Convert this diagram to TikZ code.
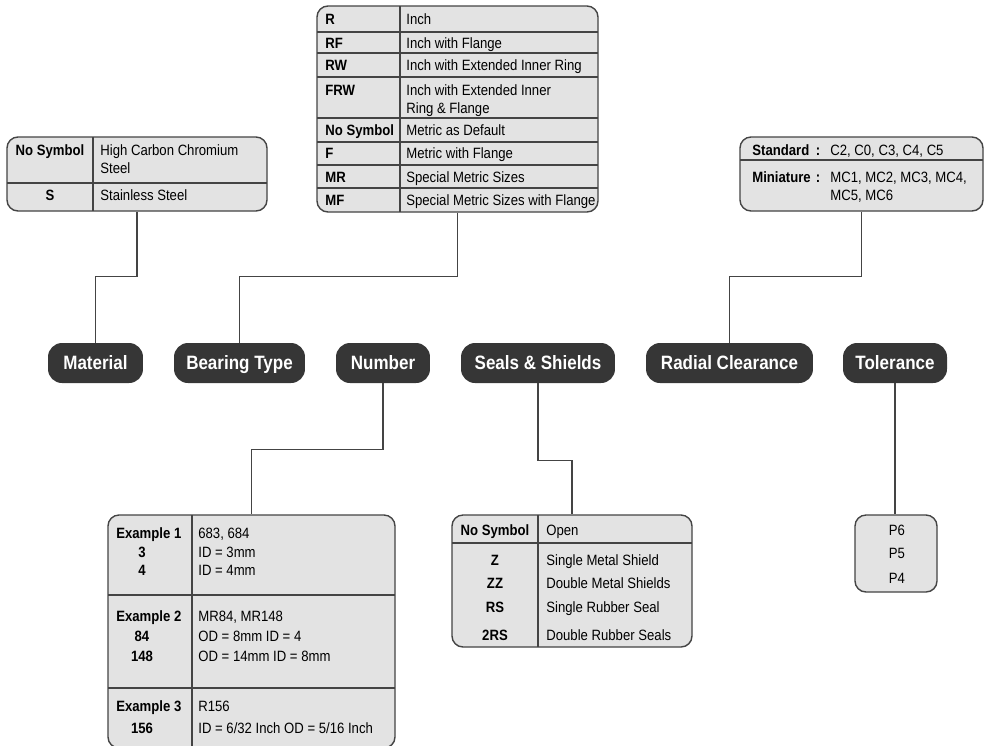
\documentclass[tikz,border=0pt]{standalone}
\usepackage{fontspec}
\setmainfont{Liberation Sans}[FakeStretch=0.88]
\usetikzlibrary{positioning,fit}
\definecolor{pillgray}{HTML}{363636}
\definecolor{cellgray}{HTML}{E3E3E3}
\definecolor{rulegray}{HTML}{444444}

\begin{document}
\begin{tikzpicture}[x=0.02cm,y=-0.02cm,
  tbl/.style={draw=rulegray, line width=0.8pt, fill=cellgray, rounded corners=0.22cm, inner sep=0pt},
  pill/.style={fill=pillgray, text=white, rounded corners=0.28cm, inner sep=0pt, minimum height=0.8cm,
    font=\fontsize{11}{12}\selectfont\bfseries, text height=7.9pt, text depth=0pt},
  txt/.style={anchor=west, inner sep=0pt, font=\fontsize{8.5}{10}\selectfont, text height=6.1pt, text depth=0pt},
  plain/.style={txt, anchor=center},
  symw/.style={txt, font=\fontsize{8.5}{10}\selectfont\bfseries},
  sym/.style={symw, anchor=center},
  rule/.style={draw=rulegray, line width=0.7pt},
  link/.style={draw=rulegray, line width=0.7pt}]
  \useasboundingbox (0,0) rectangle (990,745);

  \foreach \x/\w/\n/\t in {95.5/1.9/lmat/Material, 239.5/2.62/ltype/Bearing Type, 383/1.88/lnum/Number,
    538/3.08/lseal/Seals \& Shields, 729.5/3.34/lclr/Radial Clearance, 895/2.08/ltol/Tolerance}
    \node[pill, minimum width=\w cm] (\n) at (\x,363) {\t};

  \node[tbl, fit={(7,137) (267,211)}] (tmat) {};
  \node[tbl, fit={(317,6) (598,212)}] (ttype) {};
  \node[tbl, fit={(740,137) (983,211)}] (tclr) {};
  \node[tbl, fit={(108,515) (395,748)}] (tnum) {};
  \node[tbl, fit={(452,515) (692,647)}] (tseal) {};
  \node[tbl, fit={(855,515) (937,592)}] (ttol) {};

  \draw[rule] (93,137) -- (93,211) (7,183) -- (267,183);
  \draw[rule] (400,6) -- (400,212);
  \foreach \y in {32,53,77,118,142,165,188}
    \draw[rule] (317,\y) -- (598,\y);
  \draw[rule] (740,160) -- (983,160);
  \draw[rule] (192,515) -- (192,748) (108,595) -- (395,595) (108,688) -- (395,688);
  \draw[rule] (538,515) -- (538,647) (452,543) -- (692,543);

  \node[sym] (ms1) at (50,150) {No Symbol};
  \node[txt] (md1) at (100,150) {High Carbon Chromium};
  \node[txt] (md2) at (100,168) {Steel};
  \node[sym] (ms2) at (50,195) {S};
  \node[txt] (md3) at (100,195) {Stainless Steel};

  \foreach \y/\s/\d [count=\i] in {19/R/Inch, 43/RF/Inch with Flange, 65/RW/Inch with Extended Inner Ring,
    90/FRW/Inch with Extended Inner, 130/No Symbol/Metric as Default, 153/F/Metric with Flange,
    177/MR/Special Metric Sizes, 200/MF/Special Metric Sizes with Flange}
  {
    \node[symw] (bs\i) at (325,\y) {\s};
    \node[txt] (bd\i) at (406,\y) {\d};
  }
  \node[txt] (bd9) at (406,108) {Ring \& Flange};

  \node[symw] (cs1) at (752,150) {Standard};
  \node[sym] (cc1) at (818,150) {:};
  \node[txt] (cd1) at (830,150) {C2, C0, C3, C4, C5};
  \node[symw] (cs2) at (752,177) {Miniature};
  \node[sym] (cc2) at (818,177) {:};
  \node[txt] (cd2) at (830,177) {MC1, MC2, MC3, MC4,};
  \node[txt] (cd3) at (830,195) {MC5, MC6};

  \foreach \y/\s [count=\i] in {533/Example 1, 616/Example 2, 706/Example 3}
    \node[symw] (ne\i) at (116,\y) {\s};
  \foreach \y/\s [count=\i] in {552/3, 570/4, 636/84, 656/148, 728/156}
    \node[sym] (nn\i) at (142,\y) {\s};
  \foreach \y/\d [count=\i] in {533/{683, 684}, 552/{ID = 3mm}, 570/{ID = 4mm}, 616/{MR84, MR148},
    636/{OD = 8mm ID = 4}, 656/{OD = 14mm ID = 8mm}, 706/{R156}, 728/{ID = 6/32 Inch OD = 5/16 Inch}}
    \node[txt] (nd\i) at (198,\y) {\d};

  \foreach \y/\s/\d [count=\i] in {530/No Symbol/Open, 560/Z/Single Metal Shield, 583/ZZ/Double Metal Shields,
    607/RS/Single Rubber Seal, 635/2RS/Double Rubber Seals}
  {
    \node[sym] (ss\i) at (495,\y) {\s};
    \node[txt] (sd\i) at (546,\y) {\d};
  }

  \foreach \y/\p [count=\i] in {530/P6, 553/P5, 578/P4}
    \node[plain] (tp\i) at (897,\y) {\p};

  \draw[link] (tmat.south) -- ++(0,65) -| (lmat.north);
  \draw[link] (ttype.south) -- ++(0,64) -| (ltype.north);
  \draw[link] (tclr.south) -- ++(0,65) -| (lclr.north);
  \draw[link] (lnum.south) -- ++(0,66) -| (tnum.north);
  \draw[link] (lseal.south) -- ++(0,77) -| (tseal.north);
  \draw[link] (ltol.south) -- (ltol.south |- ttol.north);
\end{tikzpicture}
\end{document}
